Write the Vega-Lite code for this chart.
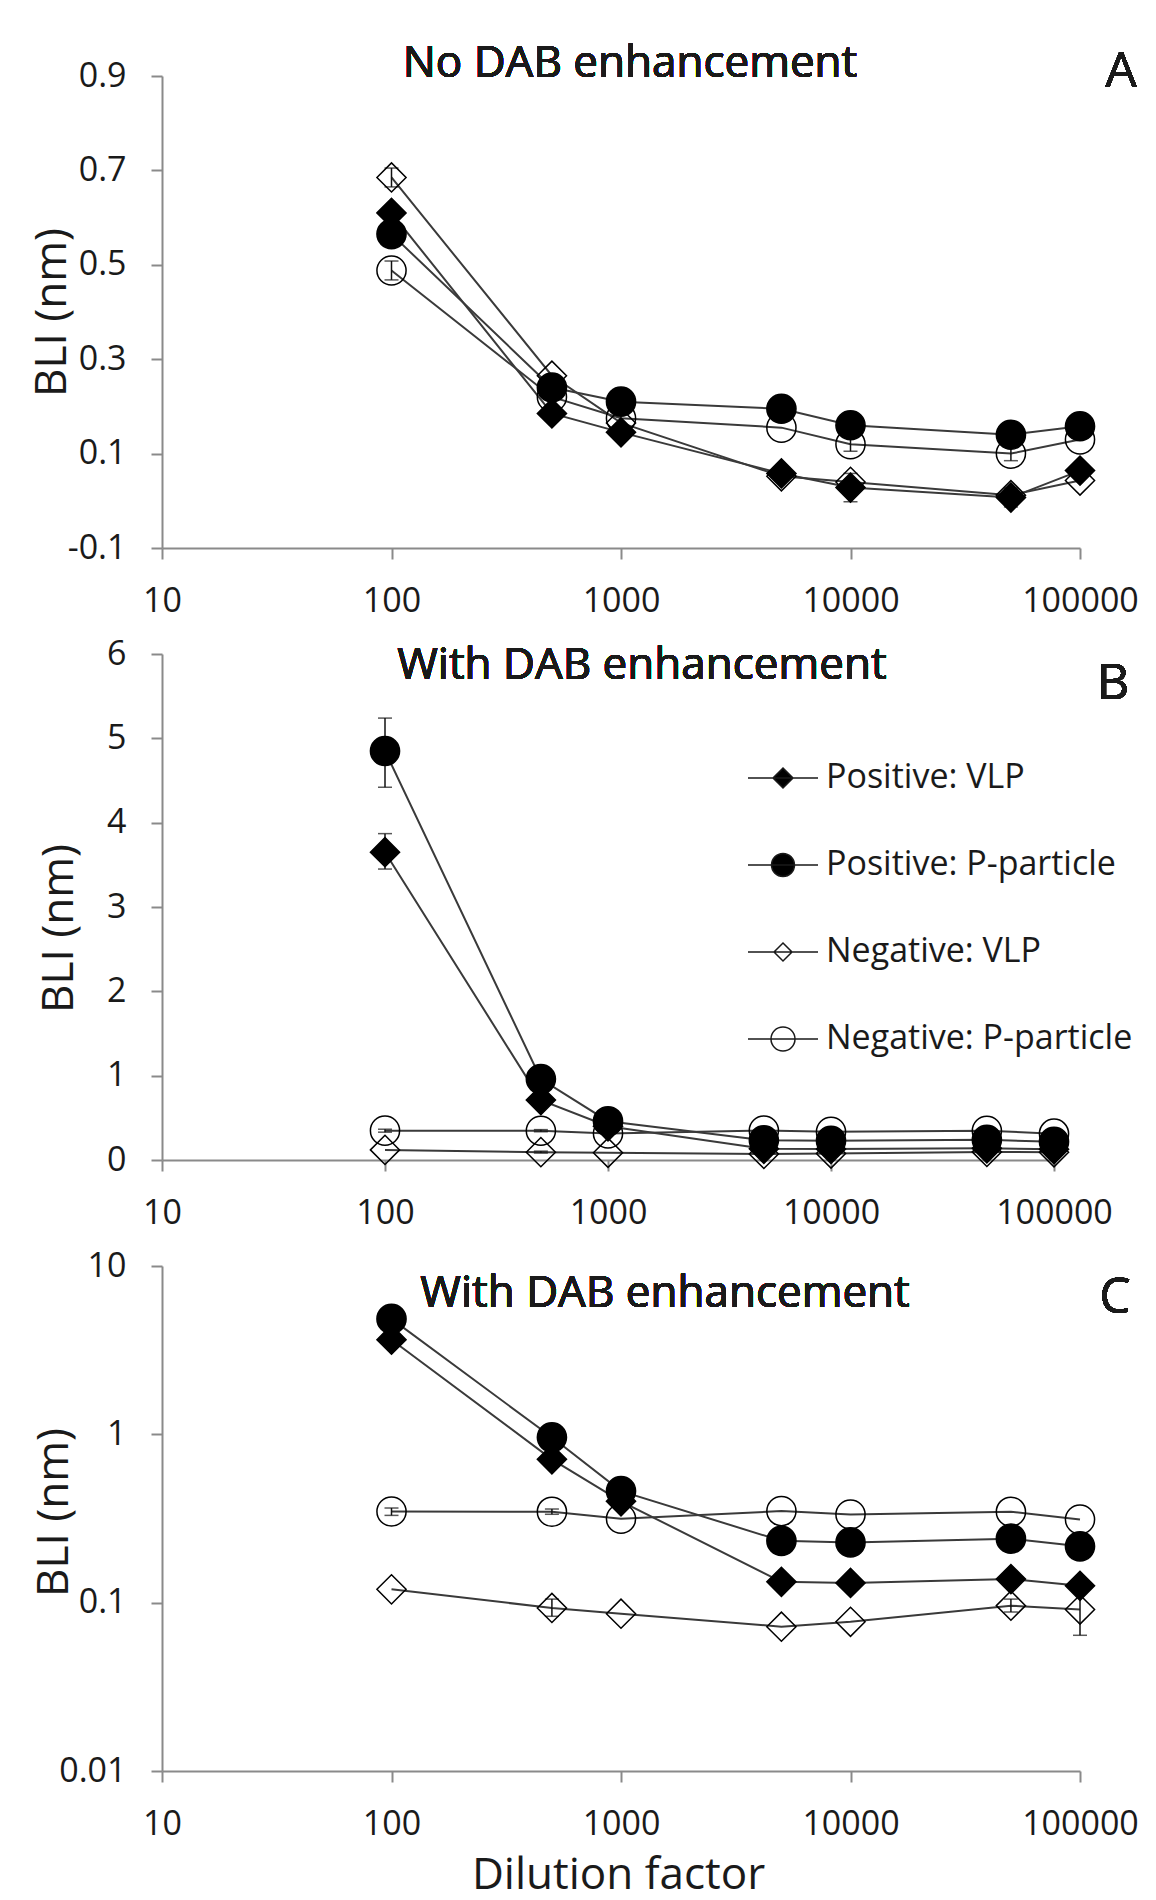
{
  "$schema": "https://vega.github.io/schema/vega-lite/v6.json",
  "autosize": {"type": "none"},
  "padding": {"left": 162, "top": 76, "right": 994, "bottom": 1824},
  "background": "white",
  "bounds": "flush",
  "spacing": 106,
  "datasets": {
    "a": [
      {"series": "Positive: VLP", "dil": 100, "bli": 0.61},
      {"series": "Positive: VLP", "dil": 500, "bli": 0.185},
      {"series": "Positive: VLP", "dil": 1000, "bli": 0.145},
      {"series": "Positive: VLP", "dil": 5000, "bli": 0.058},
      {"series": "Positive: VLP", "dil": 10000, "bli": 0.028, "lo": -0.002, "hi": 0.058},
      {"series": "Positive: VLP", "dil": 50000, "bli": 0.007, "lo": -0.013, "hi": 0.027},
      {"series": "Positive: VLP", "dil": 100000, "bli": 0.064},
      {"series": "Positive: P-particle", "dil": 100, "bli": 0.565},
      {"series": "Positive: P-particle", "dil": 500, "bli": 0.24},
      {"series": "Positive: P-particle", "dil": 1000, "bli": 0.21},
      {"series": "Positive: P-particle", "dil": 5000, "bli": 0.195},
      {"series": "Positive: P-particle", "dil": 10000, "bli": 0.16},
      {"series": "Positive: P-particle", "dil": 50000, "bli": 0.14},
      {"series": "Positive: P-particle", "dil": 100000, "bli": 0.158},
      {"series": "Negative: VLP", "dil": 100, "bli": 0.685, "lo": 0.665, "hi": 0.705},
      {"series": "Negative: VLP", "dil": 500, "bli": 0.265},
      {"series": "Negative: VLP", "dil": 1000, "bli": 0.165},
      {"series": "Negative: VLP", "dil": 5000, "bli": 0.052},
      {"series": "Negative: VLP", "dil": 10000, "bli": 0.04},
      {"series": "Negative: VLP", "dil": 50000, "bli": 0.012},
      {"series": "Negative: VLP", "dil": 100000, "bli": 0.043},
      {"series": "Negative: P-particle", "dil": 100, "bli": 0.488, "lo": 0.468, "hi": 0.508},
      {"series": "Negative: P-particle", "dil": 500, "bli": 0.22},
      {"series": "Negative: P-particle", "dil": 1000, "bli": 0.175},
      {"series": "Negative: P-particle", "dil": 5000, "bli": 0.155},
      {"series": "Negative: P-particle", "dil": 10000, "bli": 0.12, "lo": 0.105, "hi": 0.135},
      {"series": "Negative: P-particle", "dil": 50000, "bli": 0.1, "lo": 0.085, "hi": 0.115},
      {"series": "Negative: P-particle", "dil": 100000, "bli": 0.13}
    ],
    "bc": [
      {"series": "Positive: VLP", "dil": 100, "bli": 3.65, "lo": 3.45, "hi": 3.87},
      {"series": "Positive: VLP", "dil": 500, "bli": 0.71},
      {"series": "Positive: VLP", "dil": 1000, "bli": 0.4},
      {"series": "Positive: VLP", "dil": 5000, "bli": 0.133},
      {"series": "Positive: VLP", "dil": 10000, "bli": 0.131},
      {"series": "Positive: VLP", "dil": 50000, "bli": 0.138},
      {"series": "Positive: VLP", "dil": 100000, "bli": 0.126},
      {"series": "Positive: P-particle", "dil": 100, "bli": 4.85, "lo": 4.42, "hi": 5.24},
      {"series": "Positive: P-particle", "dil": 500, "bli": 0.96},
      {"series": "Positive: P-particle", "dil": 1000, "bli": 0.46},
      {"series": "Positive: P-particle", "dil": 5000, "bli": 0.233},
      {"series": "Positive: P-particle", "dil": 10000, "bli": 0.228},
      {"series": "Positive: P-particle", "dil": 50000, "bli": 0.24},
      {"series": "Positive: P-particle", "dil": 100000, "bli": 0.216},
      {"series": "Negative: VLP", "dil": 100, "bli": 0.12},
      {"series": "Negative: VLP", "dil": 500, "bli": 0.093, "lo": 0.083, "hi": 0.105},
      {"series": "Negative: VLP", "dil": 1000, "bli": 0.086},
      {"series": "Negative: VLP", "dil": 5000, "bli": 0.072},
      {"series": "Negative: VLP", "dil": 10000, "bli": 0.077},
      {"series": "Negative: VLP", "dil": 50000, "bli": 0.096, "lo": 0.088, "hi": 0.105},
      {"series": "Negative: VLP", "dil": 100000, "bli": 0.091, "lo": 0.064, "hi": 0.118},
      {"series": "Negative: P-particle", "dil": 100, "bli": 0.348, "lo": 0.33, "hi": 0.365},
      {"series": "Negative: P-particle", "dil": 500, "bli": 0.347, "lo": 0.335, "hi": 0.36},
      {"series": "Negative: P-particle", "dil": 1000, "bli": 0.315},
      {"series": "Negative: P-particle", "dil": 5000, "bli": 0.35},
      {"series": "Negative: P-particle", "dil": 10000, "bli": 0.334},
      {"series": "Negative: P-particle", "dil": 50000, "bli": 0.347},
      {"series": "Negative: P-particle", "dil": 100000, "bli": 0.312}
    ]
  },
  "vconcat": [
    {
      "width": 918,
      "height": 472,
      "data": {"name": "a"},
      "layer": [
        {
          "mark": {"type": "line", "stroke": "#3a3a3a", "strokeWidth": 2},
          "encoding": {
            "x": {"field": "dil", "type": "quantitative", "scale": {"type": "log", "domain": [10, 100000], "nice": false},
                  "axis": {"values": [10, 100, 1000, 10000, 100000], "format": "d", "title": null}},
            "y": {"field": "bli", "type": "quantitative", "scale": {"domain": [-0.1, 0.9], "nice": false, "zero": false},
                  "axis": {"values": [-0.1, 0.1, 0.3, 0.5, 0.7, 0.9], "labelExpr": "replace(format(datum.value, '.1f'), '\u2212', '-')",
                           "title": "BLI (nm)", "titleX": -97, "titleY": 236, "titleAngle": 270, "titleBaseline": "alphabetic", "titleAlign": "center"}},
            "detail": {"field": "series"}
          }
        },
        {
          "transform": [{"filter": "isValid(datum.lo)"}],
          "mark": {"type": "rule", "color": "#111", "strokeWidth": 1.5},
          "encoding": {"x": {"field": "dil", "type": "quantitative"}, "y": {"field": "lo", "type": "quantitative"}, "y2": {"field": "hi"}}
        },
        {
          "transform": [{"filter": "isValid(datum.lo)"}, {"fold": ["lo", "hi"], "as": ["end", "val"]}],
          "mark": {"type": "tick", "orient": "horizontal", "color": "#111", "size": 14, "thickness": 1.5},
          "encoding": {"x": {"field": "dil", "type": "quantitative"}, "y": {"field": "val", "type": "quantitative"}}
        },
        {
          "mark": {"type": "point", "filled": true, "stroke": "#000", "strokeWidth": 1.5, "size": 850, "opacity": 1},
          "encoding": {
            "x": {"field": "dil", "type": "quantitative"},
            "y": {"field": "bli", "type": "quantitative"},
            "shape": {"field": "series", "type": "nominal", "legend": null,
                      "scale": {"domain": ["Positive: VLP", "Positive: P-particle", "Negative: VLP", "Negative: P-particle"], "range": ["diamond", "circle", "diamond", "circle"]}},
            "fill": {"field": "series", "type": "nominal", "legend": null,
                     "scale": {"domain": ["Positive: VLP", "Positive: P-particle", "Negative: VLP", "Negative: P-particle"], "range": ["#000", "#000", "transparent", "transparent"]}}
          }
        },
        {
          "mark": {"type": "text", "font": "Open Sans", "fontSize": 44, "align": "center", "baseline": "alphabetic", "color": "#1a1a1a"},
          "encoding": {"x": {"datum": 1094}, "y": {"datum": 0.897}, "text": {"value": "No DAB enhancement"}}
        },
        {
          "mark": {"type": "text", "font": "Open Sans", "fontSize": 50, "align": "center", "baseline": "alphabetic", "color": "#1a1a1a"},
          "encoding": {"x": {"datum": 151000}, "y": {"datum": 0.877}, "text": {"value": "A"}}
        }
      ]
    },
    {
      "width": 892,
      "height": 506,
      "data": {"name": "bc"},
      "resolve": {"scale": {"shape": "independent", "fill": "independent"}, "legend": {"shape": "independent", "fill": "independent"}},
      "layer": [
        {
          "mark": {"type": "line", "stroke": "#3a3a3a", "strokeWidth": 2},
          "encoding": {
            "x": {"field": "dil", "type": "quantitative", "scale": {"type": "log", "domain": [10, 100000], "nice": false},
                  "axis": {"values": [10, 100, 1000, 10000, 100000], "format": "d", "title": null}},
            "y": {"field": "bli", "type": "quantitative", "scale": {"domain": [0, 6], "nice": false},
                  "axis": {"values": [0, 1, 2, 3, 4, 5, 6], "format": "d",
                           "title": "BLI (nm)", "titleX": -90, "titleY": 274, "titleAngle": 270, "titleBaseline": "alphabetic", "titleAlign": "center"}},
            "detail": {"field": "series"}
          }
        },
        {
          "transform": [{"filter": "isValid(datum.lo)"}],
          "mark": {"type": "rule", "color": "#111", "strokeWidth": 1.5},
          "encoding": {"x": {"field": "dil", "type": "quantitative"}, "y": {"field": "lo", "type": "quantitative"}, "y2": {"field": "hi"}}
        },
        {
          "transform": [{"filter": "isValid(datum.lo)"}, {"fold": ["lo", "hi"], "as": ["end", "val"]}],
          "mark": {"type": "tick", "orient": "horizontal", "color": "#111", "size": 14, "thickness": 1.5},
          "encoding": {"x": {"field": "dil", "type": "quantitative"}, "y": {"field": "val", "type": "quantitative"}}
        },
        {
          "mark": {"type": "point", "filled": true, "stroke": "#000", "strokeWidth": 1.5, "size": 850, "opacity": 1},
          "encoding": {
            "x": {"field": "dil", "type": "quantitative"},
            "y": {"field": "bli", "type": "quantitative"},
            "shape": {"field": "series", "type": "nominal", "legend": null,
                      "scale": {"domain": ["Positive: VLP", "Positive: P-particle", "Negative: VLP", "Negative: P-particle"], "range": ["diamond", "circle", "diamond", "circle"]}},
            "fill": {"field": "series", "type": "nominal", "legend": null,
                     "scale": {"domain": ["Positive: VLP", "Positive: P-particle", "Negative: VLP", "Negative: P-particle"], "range": ["#000", "#000", "transparent", "transparent"]}}
          }
        },
        {
          "transform": [{"filter": "false"}],
          "mark": {"type": "point", "filled": true, "stroke": "#1a1a1a", "strokeWidth": 1.8, "size": 400, "opacity": 1},
          "encoding": {
            "x": {"field": "dil", "type": "quantitative"},
            "y": {"field": "bli", "type": "quantitative"},
            "shape": {"field": "series", "type": "nominal",
                      "scale": {"domain": ["Positive: VLP", "Positive: P-particle", "Negative: VLP", "Negative: P-particle"],
                                "range": ["M-3.5,0H3.5M0,-1L1,0L0,1L-1,0Z", "M-3.5,0H3.5M-1.15,0A1.15,1.15,0,1,0,1.15,0A1.15,1.15,0,1,0,-1.15,0Z", "M-3.5,0H3.5M0,-0.9L0.9,0L0,0.9L-0.9,0Z", "M-3.5,0H3.5M-1.2,0A1.2,1.2,0,1,0,1.2,0A1.2,1.2,0,1,0,-1.2,0Z"]},
                      "legend": {"orient": "none", "legendX": 604, "legendY": 107, "title": null, "padding": 0,
                                 "labelFont": "Open Sans", "labelFontSize": 34, "labelColor": "#1a1a1a", "labelOffset": 26, "labelLimit": 600,
                                 "symbolSize": 400, "rowPadding": 53,
                                 "encode": {"symbols": {"stroke": {"value": "#1a1a1a"}, "strokeWidth": {"value": 1.8}, "opacity": {"value": 1}}}}},
            "fill": {"field": "series", "type": "nominal",
                     "scale": {"domain": ["Positive: VLP", "Positive: P-particle", "Negative: VLP", "Negative: P-particle"], "range": ["#000", "#000", "transparent", "transparent"]},
                     "legend": {"orient": "none", "legendX": 604, "legendY": 107, "title": null, "padding": 0,
                                "labelFont": "Open Sans", "labelFontSize": 34, "labelColor": "#1a1a1a", "labelOffset": 26, "labelLimit": 600,
                                "symbolSize": 400, "rowPadding": 53,
                                "encode": {"symbols": {"stroke": {"value": "#1a1a1a"}, "strokeWidth": {"value": 1.8}, "opacity": {"value": 1}}}}}
          }
        },
        {
          "mark": {"type": "text", "font": "Open Sans", "fontSize": 44, "align": "center", "baseline": "alphabetic", "color": "#1a1a1a"},
          "encoding": {"x": {"datum": 1419}, "y": {"datum": 5.7}, "text": {"value": "With DAB enhancement"}}
        },
        {
          "mark": {"type": "text", "font": "Open Sans", "fontSize": 50, "align": "center", "baseline": "alphabetic", "color": "#1a1a1a"},
          "encoding": {"x": {"datum": 184000}, "y": {"datum": 5.47}, "text": {"value": "B"}}
        }
      ]
    },
    {
      "width": 918,
      "height": 505,
      "data": {"name": "bc"},
      "layer": [
        {
          "mark": {"type": "line", "stroke": "#3a3a3a", "strokeWidth": 2},
          "encoding": {
            "x": {"field": "dil", "type": "quantitative", "scale": {"type": "log", "domain": [10, 100000], "nice": false},
                  "axis": {"values": [10, 100, 1000, 10000, 100000], "format": "d", "title": "Dilution factor",
                           "titleX": 456, "titleY": 117, "titleBaseline": "alphabetic", "titleAlign": "center"}},
            "y": {"field": "bli", "type": "quantitative", "scale": {"type": "log", "domain": [0.01, 10], "nice": false},
                  "axis": {"values": [0.01, 0.1, 1, 10], "format": "~g",
                           "title": "BLI (nm)", "titleX": -95, "titleY": 246, "titleAngle": 270, "titleBaseline": "alphabetic", "titleAlign": "center"}},
            "detail": {"field": "series"}
          }
        },
        {
          "transform": [{"filter": "isValid(datum.lo)"}],
          "mark": {"type": "rule", "color": "#111", "strokeWidth": 1.5},
          "encoding": {"x": {"field": "dil", "type": "quantitative"}, "y": {"field": "lo", "type": "quantitative"}, "y2": {"field": "hi"}}
        },
        {
          "transform": [{"filter": "isValid(datum.lo)"}, {"fold": ["lo", "hi"], "as": ["end", "val"]}],
          "mark": {"type": "tick", "orient": "horizontal", "color": "#111", "size": 14, "thickness": 1.5},
          "encoding": {"x": {"field": "dil", "type": "quantitative"}, "y": {"field": "val", "type": "quantitative"}}
        },
        {
          "mark": {"type": "point", "filled": true, "stroke": "#000", "strokeWidth": 1.5, "size": 850, "opacity": 1},
          "encoding": {
            "x": {"field": "dil", "type": "quantitative"},
            "y": {"field": "bli", "type": "quantitative"},
            "shape": {"field": "series", "type": "nominal", "legend": null,
                      "scale": {"domain": ["Positive: VLP", "Positive: P-particle", "Negative: VLP", "Negative: P-particle"], "range": ["diamond", "circle", "diamond", "circle"]}},
            "fill": {"field": "series", "type": "nominal", "legend": null,
                     "scale": {"domain": ["Positive: VLP", "Positive: P-particle", "Negative: VLP", "Negative: P-particle"], "range": ["#000", "#000", "transparent", "transparent"]}}
          }
        },
        {
          "mark": {"type": "text", "font": "Open Sans", "fontSize": 44, "align": "center", "baseline": "alphabetic", "color": "#1a1a1a"},
          "encoding": {"x": {"datum": 1556}, "y": {"datum": 5.7}, "text": {"value": "With DAB enhancement"}}
        },
        {
          "mark": {"type": "text", "font": "Open Sans", "fontSize": 50, "align": "center", "baseline": "alphabetic", "color": "#1a1a1a"},
          "encoding": {"x": {"datum": 142000}, "y": {"datum": 5.26}, "text": {"value": "C"}}
        }
      ]
    }
  ],
  "config": {
    "font": "Open Sans",
    "view": {"stroke": null},
    "axis": {
      "grid": false,
      "domainColor": "#8a8a8a", "domainWidth": 2,
      "tickColor": "#8a8a8a", "tickWidth": 2, "tickSize": 11,
      "labelFont": "Open Sans", "labelFontSize": 34, "labelColor": "#1a1a1a", "labelPadding": 25,
      "labelFlush": false, "labelOverlap": false,
      "titleFont": "Open Sans", "titleFontSize": 44, "titleFontWeight": "normal", "titleColor": "#1a1a1a"
    }
  }
}
